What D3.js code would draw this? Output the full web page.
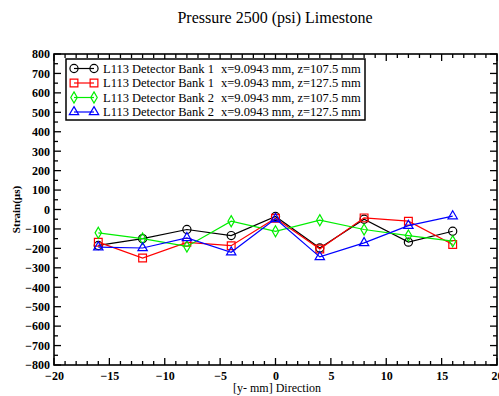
<!DOCTYPE html>
<html>
<head>
<meta charset="utf-8">
<script src="https://cdn.jsdelivr.net/npm/d3@7"></script>
<style>
  body { margin: 0; background: #fff; }
  text { font-family: 'Liberation Serif', 'Times New Roman', serif; }
</style>
</head>
<body>
<div id="chart_area"></div>
<script>
// data
const positions = [-16, -12, -8, -4, 0, 4, 8, 12, 16];
const bank1z1075 = [-185, -150, -103, -134, -36, -198, -50, -168, -112];
const bank1z1275 = [-168, -250, -169, -186, -45, -203, -43, -60, -180];
const bank2z1075 = [-120, -150, -190, -60, -112, -55, -103, -134, -163];
const bank2z1275 = [-194, -198, -146, -220, -48, -244, -172, -83, -34];
const seriesNames = [
  'L113 Detector Bank 1',
  'L113 Detector Bank 1',
  'L113 Detector Bank 2',
  'L113 Detector Bank 2'
];
const seriesCoords = [
  'x=9.0943 mm, z=107.5 mm',
  'x=9.0943 mm, z=127.5 mm',
  'x=9.0943 mm, z=107.5 mm',
  'x=9.0943 mm, z=127.5 mm'
];
const xTicks = [-20, -15, -10, -5, 0, 5, 10, 15, 20];
const yTicks = d3.range(-800, 801, 100);

const datum = [
  { values: bank1z1075, color: '#000000', symbol: 'circle' },
  { values: bank1z1275, color: '#ff0000', symbol: 'square' },
  { values: bank2z1075, color: '#00ee00', symbol: 'diamond' },
  { values: bank2z1275, color: '#0000ff', symbol: 'triangle' }
];

const margin = { top: 54, right: 2, bottom: 31, left: 54 };
const svgWidth = 499;
const svgHeight = 396;
const width = svgWidth - margin.left - margin.right;
const height = svgHeight - margin.top - margin.bottom;

const svg = d3
  .select('#chart_area')
  .append('svg')
  .attr('width', svgWidth)
  .attr('height', svgHeight);

const g = svg
  .append('g')
  .attr('transform', 'translate(' + margin.left + ',' + margin.top + ')');

const x = d3.scaleLinear().domain([-20, 20]).range([0, width]);
const y = d3.scaleLinear().domain([-800, 800]).range([height, 0]);

function drawMarker(sel, symbol, color) {
  const sym = {
    circle: d3.symbol(d3.symbolCircle, 52),
    square: d3.symbol(d3.symbolSquare, 60),
    diamond: d3.symbol(d3.symbolDiamond, 36),
    triangle: d3.symbol(d3.symbolTriangle, 38)
  }[symbol];
  sel
    .append('path')
    .attr('d', sym())
    .attr('fill', 'none')
    .attr('stroke', color)
    .attr('stroke-width', 1.2);
}

// ticks (inward, on all four sides)
function drawTicks() {
  const ticks = g.append('g').attr('stroke', '#000').attr('stroke-width', 1.3);
  d3.range(-20, 20.01, 1).forEach((v) => {
    const len = v % 5 === 0 ? 7 : 4;
    ticks.append('line')
      .attr('x1', x(v)).attr('x2', x(v))
      .attr('y1', height).attr('y2', height - len);
    ticks.append('line')
      .attr('x1', x(v)).attr('x2', x(v))
      .attr('y1', 0).attr('y2', len);
  });
  d3.range(-800, 801, 50).forEach((v) => {
    const len = v % 100 === 0 ? 7 : 4;
    ticks.append('line')
      .attr('x1', 0).attr('x2', len)
      .attr('y1', y(v)).attr('y2', y(v));
    ticks.append('line')
      .attr('x1', width).attr('x2', width - len)
      .attr('y1', y(v)).attr('y2', y(v));
  });
}

function drawAxes() {
  const xAxis = g
    .append('g')
    .attr('transform', 'translate(0,' + height + ')')
    .call(d3.axisBottom(x).tickValues(xTicks).tickSize(0).tickPadding(6).tickFormat(d3.format('d')));
  xAxis.select('.domain').remove();
  xAxis.selectAll('text')
    .attr('font-family', "'Liberation Serif', serif")
    .attr('font-weight', 'bold')
    .attr('font-size', 12)
    .attr('fill', '#000');

  const yAxis = g
    .append('g')
    .call(d3.axisLeft(y).tickValues(yTicks).tickSize(0).tickPadding(4).tickFormat(d3.format('d')));
  yAxis.select('.domain').remove();
  yAxis.selectAll('text')
    .attr('font-family', "'Liberation Serif', serif")
    .attr('font-weight', 'bold')
    .attr('font-size', 12)
    .attr('fill', '#000');

  g.append('rect')
    .attr('x', 0)
    .attr('y', 0)
    .attr('width', width)
    .attr('height', height)
    .attr('fill', 'none')
    .attr('stroke', '#000')
    .attr('stroke-width', 1.6);
}

function drawGraph() {
  const line = d3
    .line()
    .x((d, i) => x(positions[i]))
    .y((d) => y(d));
  datum.forEach((data) => {
    g.append('path')
      .datum(data.values)
      .attr('d', line)
      .attr('fill', 'none')
      .attr('stroke', data.color)
      .attr('stroke-width', 1.2);
    data.values.forEach((value, index) => {
      const m = g.append('g')
        .attr('transform', 'translate(' + x(positions[index]) + ',' + y(value) + ')');
      drawMarker(m, data.symbol, data.color);
    });
  });
}

function drawLegend() {
  const legend = g.append('g').attr('transform', 'translate(12,5)');
  legend.append('rect')
    .attr('x', 0)
    .attr('y', 0)
    .attr('width', 299)
    .attr('height', 61)
    .attr('fill', '#fff')
    .attr('stroke', '#000')
    .attr('stroke-width', 1.5);
  datum.forEach((data, i) => {
    const row = legend.append('g').attr('transform', 'translate(0,' + (9.5 + i * 14.5) + ')');
    row.append('line')
      .attr('x1', 8).attr('x2', 28)
      .attr('y1', 0).attr('y2', 0)
      .attr('stroke', data.color)
      .attr('stroke-width', 1.2);
    drawMarker(row.append('g').attr('transform', 'translate(8,0)'), data.symbol, data.color);
    drawMarker(row.append('g').attr('transform', 'translate(28,0)'), data.symbol, data.color);
    row.append('text')
      .attr('x', 37)
      .attr('y', 4)
      .attr('font-size', 12.5)
      .text(seriesNames[i]);
    row.append('text')
      .attr('x', 155)
      .attr('y', 4)
      .attr('font-size', 12.5)
      .text(seriesCoords[i]);
  });
}

drawTicks();
drawAxes();
drawGraph();
drawLegend();

// titles
svg.append('text')
  .attr('x', 275)
  .attr('y', 23)
  .attr('text-anchor', 'middle')
  .attr('font-size', 16)
  .text('Pressure 2500 (psi) Limestone');

svg.append('text')
  .attr('x', 277)
  .attr('y', 392)
  .attr('text-anchor', 'middle')
  .attr('font-size', 12)
  .text('[y- mm] Direction');

svg.append('text')
  .attr('transform', 'translate(20,' + (margin.top + y(0)) + ') rotate(-90)')
  .attr('text-anchor', 'middle')
  .attr('font-size', 11)
  .attr('font-weight', 'bold')
  .text('Strain(µs)');
</script>
</body>
</html>
